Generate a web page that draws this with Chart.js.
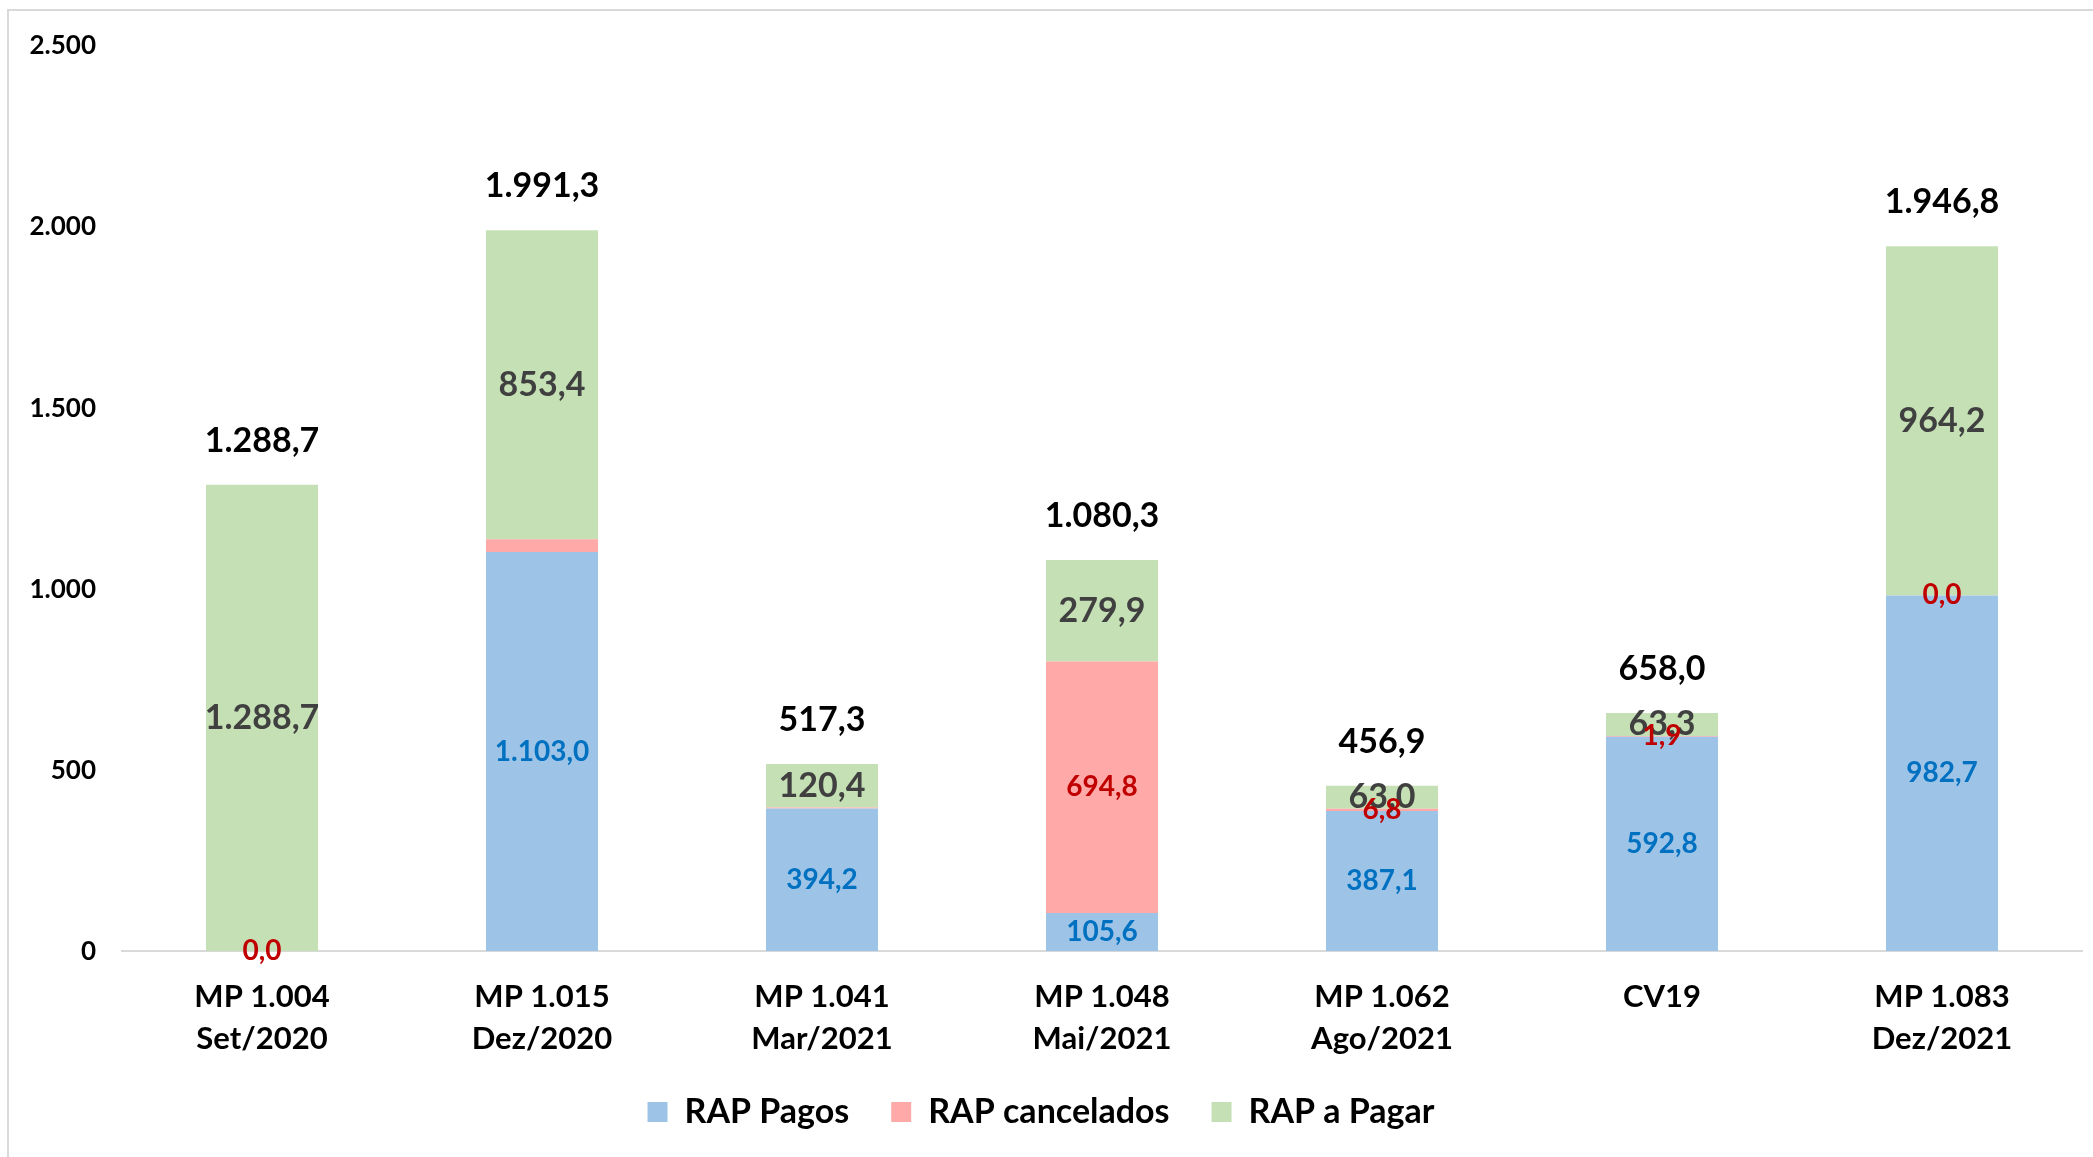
<!DOCTYPE html>
<html>
<head>
<meta charset="utf-8">
<script src="https://cdn.jsdelivr.net/npm/chart.js@4.4.1/dist/chart.umd.min.js"></script>
<style>
  html, body { margin: 0; padding: 0; background: #fff; }
</style>
</head>
<body>
<canvas id="rapChart" width="2093" height="1157"></canvas>
<script>
// categories (two-line labels)
const categories = [
  ["MP 1.004", "Set/2020"],
  ["MP 1.015", "Dez/2020"],
  ["MP 1.041", "Mar/2021"],
  ["MP 1.048", "Mai/2021"],
  ["MP 1.062", "Ago/2021"],
  ["CV19"],
  ["MP 1.083", "Dez/2021"],
];

// series values (R$ milhões)
const rapPagos = [0, 1103.0, 394.2, 105.6, 387.1, 592.8, 982.7];
const rapCancelados = [0, 34.9, 2.7, 694.8, 6.8, 1.9, 0];
const rapAPagar = [1288.7, 853.4, 120.4, 279.9, 63.0, 63.3, 964.2];
const totals = [1288.7, 1991.3, 517.3, 1080.3, 456.9, 658.0, 1946.8];

const yTicks = [0, 500, 1000, 1500, 2000, 2500];

// labels the original leaves off
const hiddenLabels = { "RAP Pagos": [0], "RAP cancelados": [1, 2] };

const FONT = "Lato, 'Open Sans', sans-serif";
const LEGEND_TRIM = 32; // legend takes less room than chart.js gives it

// 1234.5 -> "1.234,5"
function fmtBR(v, dec) {
  const parts = v.toFixed(dec).split(".");
  parts[0] = parts[0].replace(/\B(?=(\d{3})+(?!\d))/g, ".");
  return parts.join(",");
}

// light frame like the excel chart area
const frame = {
  id: "frame",
  beforeDraw(chart) {
    const ctx = chart.ctx;
    ctx.save();
    ctx.strokeStyle = "#d9d9d9";
    ctx.lineWidth = 2;
    ctx.strokeRect(8, 10, chart.width + 20, chart.height + 20);
    ctx.restore();
  },
};

// shrink the legend box so the plot gets more height, keep items in place
const legendFit = {
  id: "legendFit",
  afterInit(chart) {
    const legend = chart.legend;
    const fit = legend.fit;
    legend.fit = function () {
      fit.call(this);
      this.height -= LEGEND_TRIM;
    };
  },
  afterLayout(chart) {
    chart.legend.top -= LEGEND_TRIM;
  },
};

// segment values + totals above each stack
const valueLabels = {
  id: "valueLabels",
  afterDatasetsDraw(chart) {
    const ctx = chart.ctx;
    ctx.save();
    ctx.textAlign = "center";
    ctx.textBaseline = "middle";
    [0, 2, 1].forEach((di) => {
      const ds = chart.data.datasets[di];
      const meta = chart.getDatasetMeta(di);
      const skip = hiddenLabels[ds.label] || [];
      ctx.font = "bold " + ds.labelSize + "px " + FONT;
      ctx.fillStyle = ds.labelColor;
      meta.data.forEach((bar, i) => {
        if (skip.includes(i)) return;
        ctx.fillText(fmtBR(ds.data[i], 1), bar.x, (bar.y + bar.base) / 2);
      });
    });

    const yScale = chart.scales.y;
    const bars = chart.getDatasetMeta(0).data;
    ctx.font = "bold 34px " + FONT;
    ctx.fillStyle = "#000";
    totals.forEach((t, i) => {
      ctx.fillText(fmtBR(t, 1), bars[i].x, yScale.getPixelForValue(t) - 44);
    });
    ctx.restore();
  },
};

new Chart(document.getElementById("rapChart"), {
  type: "bar",
  data: {
    labels: categories,
    datasets: [
      {
        label: "RAP Pagos",
        data: rapPagos,
        backgroundColor: "#9DC3E6",
        labelColor: "#0070C0",
        labelSize: 28,
      },
      {
        label: "RAP cancelados",
        data: rapCancelados,
        backgroundColor: "#FFA9A9",
        labelColor: "#C00000",
        labelSize: 28,
      },
      {
        label: "RAP a Pagar",
        data: rapAPagar,
        backgroundColor: "#C5E0B4",
        labelColor: "#404040",
        labelSize: 34,
      },
    ],
  },
  options: {
    responsive: false,
    animation: false,
    datasets: {
      bar: { barPercentage: 1, categoryPercentage: 0.4 },
    },
    layout: { padding: { top: 46, right: 11, bottom: 18, left: 0 } },
    scales: {
      x: {
        stacked: true,
        grid: { display: false, drawTicks: false },
        border: { display: true, color: "#d9d9d9", width: 2 },
        ticks: {
          color: "#000",
          padding: 25,
          maxRotation: 0,
          font: { family: FONT, weight: "bold", size: 31, lineHeight: 1.35 },
        },
      },
      y: {
        stacked: true,
        min: 0,
        max: 2500,
        grid: { display: false, drawTicks: false },
        border: { display: false },
        afterFit(scale) {
          scale.width = 122;
        },
        afterBuildTicks(scale) {
          scale.ticks = yTicks.map((v) => ({ value: v }));
        },
        ticks: {
          color: "#000",
          padding: 26,
          font: { family: FONT, weight: "bold", size: 26 },
          callback: (v) => fmtBR(v, 0),
        },
      },
    },
    plugins: {
      legend: {
        position: "bottom",
        labels: {
          color: "#000",
          boxWidth: 20,
          boxHeight: 20,
          padding: 42,
          font: { family: FONT, weight: "bold", size: 34 },
        },
      },
      tooltip: { enabled: false },
    },
  },
  plugins: [frame, legendFit, valueLabels],
});
</script>
</body>
</html>
